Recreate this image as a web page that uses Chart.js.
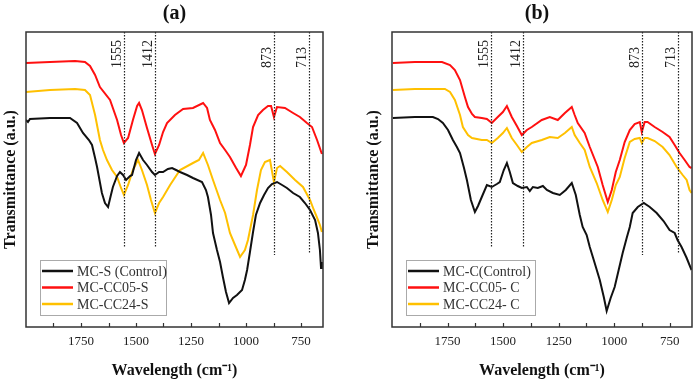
<!DOCTYPE html>
<html>
<head>
<meta charset="utf-8">
<script src="https://cdn.jsdelivr.net/npm/chart.js@4.4.1/dist/chart.umd.min.js"></script>
<style>
  body { margin: 0; background: #fff; }
  #wrap { position: relative; width: 693px; height: 380px; }
  canvas { position: absolute; top: 0; }
</style>
</head>
<body>
<div id="wrap">
  <canvas id="chartA" width="346" height="380" style="left:0"></canvas>
  <canvas id="chartB" width="347" height="380" style="left:346px"></canvas>
</div>
<script>
// [wavenumber cm-1, transmittance a.u.]
const A_CONTROL = [[2000,207],[1991,205],[1982,208],[1891,209],[1800,209],[1768,204],[1741,194],[1714,187],[1700,182],[1686,169],[1677,160],[1655,134],[1641,124],[1627,120],[1614,132],[1605,140],[1586,151],[1573,155],[1559,152],[1545,147],[1527,151],[1518,152],[1500,167],[1486,174],[1468,167],[1450,162],[1427,155],[1414,152],[1395,155],[1377,155],[1355,158],[1336,159],[1318,157],[1300,155],[1268,152],[1241,149],[1200,145],[1182,137],[1173,130],[1159,112],[1150,94],[1132,77],[1118,65],[1105,50],[1091,35],[1077,24],[1059,29],[1041,32],[1018,37],[1005,47],[995,57],[982,75],[968,95],[955,112],[936,124],[918,132],[900,139],[882,143],[859,145],[836,142],[814,139],[786,134],[755,130],[732,124],[709,117],[686,107],[673,94],[664,77],[659,59],[655,65]];
const A_CC05 = [[2000,264],[1891,265],[1777,266],[1732,265],[1709,261],[1686,252],[1664,240],[1618,227],[1586,207],[1568,192],[1555,184],[1536,189],[1514,207],[1495,221],[1486,224],[1473,217],[1450,199],[1427,182],[1414,173],[1395,182],[1377,195],[1359,204],[1323,212],[1286,218],[1241,219],[1195,224],[1177,219],[1164,207],[1141,197],[1118,184],[1095,177],[1073,170],[1045,159],[1023,151],[1000,162],[982,182],[968,200],[945,212],[923,217],[900,221],[886,221],[873,210],[859,220],[823,219],[786,214],[755,210],[723,204],[700,200],[677,187],[655,173]];
const A_CC24 = [[2000,235],[1891,237],[1777,238],[1732,237],[1709,232],[1686,212],[1664,187],[1650,177],[1632,167],[1609,157],[1586,150],[1568,139],[1555,132],[1536,142],[1514,157],[1491,167],[1473,157],[1450,142],[1432,127],[1414,114],[1395,124],[1377,130],[1345,142],[1300,157],[1241,164],[1214,167],[1195,174],[1173,162],[1150,147],[1118,127],[1095,114],[1073,94],[1050,82],[1027,70],[1005,77],[991,87],[968,112],[950,137],[932,157],[914,165],[891,167],[873,145],[859,159],[845,161],[814,155],[777,147],[741,140],[709,127],[695,119],[682,112],[664,102],[655,95]];

const B_CONTROL = [[1996,209],[1897,210],[1816,210],[1793,208],[1771,204],[1748,197],[1726,187],[1708,180],[1694,174],[1676,159],[1663,147],[1645,127],[1627,115],[1613,121],[1596,130],[1573,142],[1551,140],[1528,143],[1515,145],[1497,157],[1483,164],[1470,155],[1456,144],[1434,141],[1416,139],[1393,140],[1380,136],[1366,140],[1344,139],[1321,141],[1303,137],[1276,134],[1245,132],[1218,137],[1191,144],[1173,132],[1155,112],[1142,100],[1124,92],[1110,80],[1088,64],[1065,47],[1047,30],[1034,16],[1016,29],[998,40],[980,57],[962,74],[944,89],[930,100],[917,114],[894,120],[867,124],[840,120],[809,114],[778,106],[751,97],[728,94],[715,87],[697,80],[674,69],[652,57]];
const B_CC05 = [[1996,264],[1897,265],[1775,265],[1739,262],[1717,257],[1694,247],[1672,230],[1658,220],[1640,213],[1627,210],[1596,209],[1573,208],[1551,204],[1524,210],[1501,215],[1483,221],[1461,210],[1438,201],[1416,192],[1393,197],[1371,200],[1326,207],[1290,210],[1254,207],[1222,214],[1191,220],[1178,212],[1164,204],[1133,194],[1110,180],[1074,160],[1052,142],[1029,125],[1011,137],[993,155],[975,167],[953,185],[930,197],[908,203],[885,205],[876,195],[863,205],[850,205],[818,200],[782,195],[751,190],[728,182],[706,174],[683,167],[661,160],[652,159]];
const B_CC24 = [[1996,237],[1897,238],[1762,238],[1739,235],[1717,227],[1694,212],[1681,200],[1658,192],[1640,189],[1596,187],[1573,187],[1551,184],[1524,189],[1501,194],[1483,199],[1461,189],[1438,182],[1416,175],[1393,180],[1371,184],[1326,187],[1290,190],[1254,189],[1222,194],[1191,200],[1178,192],[1155,184],[1133,177],[1110,160],[1079,144],[1052,127],[1029,115],[1011,127],[993,142],[975,150],[953,169],[930,185],[908,188],[885,189],[876,184],[863,189],[850,189],[818,186],[782,180],[751,172],[719,160],[692,152],[674,147],[661,137],[652,134]];

const A_LABELS = ["MC-S (Control)", "MC-CC05-S", "MC-CC24-S"];
const B_LABELS = ["MC-C(Control)", "MC-CC05- C", "MC-CC24- C"];
const COLORS = ["#111111", "#ff1010", "#ffc000"];

const X_TICKS = [1875, 1750, 1625, 1500, 1375, 1250, 1125, 1000, 875, 750];
const MARKERS = [1555, 1412, 873, 713];
const MARKER_ENDS = [80, 80, 72, 73];

const SERIF = "'Liberation Serif', 'Times New Roman', serif";

const panelDeco = {
  id: "panelDeco",
  afterDatasetsDraw(chart, args, opts) {
    const ctx = chart.ctx;
    const area = chart.chartArea;
    const xs = chart.scales.x, ys = chart.scales.y;
    ctx.save();

    // dotted reference lines
    ctx.strokeStyle = "#222";
    ctx.lineWidth = 1.2;
    ctx.setLineDash([1.5, 1.5]);
    MARKERS.forEach((m, i) => {
      const px = Math.round(xs.getPixelForValue(m)) + 0.5;
      ctx.beginPath();
      ctx.moveTo(px, area.top);
      ctx.lineTo(px, ys.getPixelForValue(MARKER_ENDS[i]));
      ctx.stroke();
    });
    ctx.setLineDash([]);

    ctx.fillStyle = "#222";
    ctx.font = "14px " + SERIF;
    ctx.textAlign = "left";
    ctx.textBaseline = "alphabetic";
    MARKERS.forEach((m) => {
      const px = xs.getPixelForValue(m);
      ctx.save();
      ctx.translate(px - 3, area.top + 36);
      ctx.rotate(-Math.PI / 2);
      ctx.fillText(String(m), 0, 0);
      ctx.restore();
    });

    // frame
    ctx.strokeStyle = "#333";
    ctx.lineWidth = 1.5;
    ctx.strokeRect(area.left, area.top, area.right - area.left, area.bottom - area.top);

    // inward ticks
    ctx.lineWidth = 1.2;
    X_TICKS.forEach((t) => {
      const px = Math.round(xs.getPixelForValue(t)) + 0.5;
      ctx.beginPath();
      ctx.moveTo(px, area.bottom);
      ctx.lineTo(px, area.bottom - 4);
      ctx.stroke();
    });

    // legend
    const bx = area.left + 14, by = area.bottom - 67;
    ctx.strokeStyle = "#aaa";
    ctx.lineWidth = 1;
    ctx.strokeRect(bx + 0.5, by + 0.5, opts.legendWidth, 55);
    ctx.font = "14px " + SERIF;
    ctx.textBaseline = "middle";
    chart.data.datasets.forEach((ds, i) => {
      const ly = by + 11 + i * 16.5;
      ctx.strokeStyle = ds.borderColor;
      ctx.lineWidth = 2.5;
      ctx.beginPath();
      ctx.moveTo(bx + 2, ly);
      ctx.lineTo(bx + 33, ly);
      ctx.stroke();
      ctx.fillStyle = "#333";
      ctx.fillText(ds.label, bx + 37, ly + 1);
    });

    // panel title
    ctx.fillStyle = "#111";
    ctx.font = "bold 20px " + SERIF;
    ctx.textAlign = "center";
    ctx.textBaseline = "middle";
    ctx.fillText(opts.title, (area.left + area.right) / 2 + opts.titleShift, 14);

    ctx.restore();
  }
};

function makeChart(id, series, labels, opts) {
  return new Chart(document.getElementById(id).getContext("2d"), {
    type: "line",
    data: {
      datasets: series.map((s, i) => ({
        label: labels[i],
        data: s.map((p) => ({ x: p[0], y: p[1] })),
        borderColor: COLORS[i],
        borderWidth: 2,
        pointRadius: 0,
        tension: 0,
        fill: false,
      })),
    },
    options: {
      responsive: false,
      animation: false,
      layout: { padding: { top: 32, right: opts.padRight, left: 0, bottom: 0 } },
      plugins: {
        legend: { display: false },
        tooltip: { enabled: false },
        panelDeco: { title: opts.title, titleShift: opts.titleShift, legendWidth: opts.legendWidth },
      },
      scales: {
        x: {
          type: "linear",
          reverse: true,
          min: 650,
          max: 2000,
          afterBuildTicks: (scale) => {
            scale.ticks = X_TICKS.map((v) => ({ value: v }));
          },
          afterFit: (scale) => {
            scale.height = 53;
          },
          grid: { display: false, drawTicks: false },
          border: { display: false },
          ticks: {
            autoSkip: false,
            maxRotation: 0,
            padding: 7,
            color: "#222",
            font: { family: SERIF, size: 13 },
            callback: (v) => (v % 250 === 0 ? String(v) : ""),
          },
          title: {
            display: true,
            text: "Wavelength (cm⁻¹)",
            color: "#111",
            font: { family: SERIF, size: 16, weight: "bold" },
            padding: { top: 0, bottom: 0 },
          },
        },
        y: {
          min: 0,
          max: 295,
          afterFit: (scale) => {
            scale.width = opts.yWidth;
          },
          grid: { display: false, drawTicks: false },
          border: { display: false },
          ticks: { display: false },
          title: {
            display: true,
            text: "Transmittance (a.u.)",
            color: "#111",
            font: { family: SERIF, size: 16, weight: "bold" },
            padding: { top: opts.yTitlePad, bottom: 0 },
          },
        },
      },
    },
    plugins: [panelDeco],
  });
}

makeChart("chartA", [A_CONTROL, A_CC05, A_CC24], A_LABELS, {
  title: "(a)", titleShift: 0, legendWidth: 126, padRight: 23, yWidth: 26, yTitlePad: 1,
});
makeChart("chartB", [B_CONTROL, B_CC05, B_CC24], B_LABELS, {
  title: "(b)", titleShift: -5, legendWidth: 129, padRight: 1, yWidth: 46, yTitlePad: 18,
});
</script>
</body>
</html>
